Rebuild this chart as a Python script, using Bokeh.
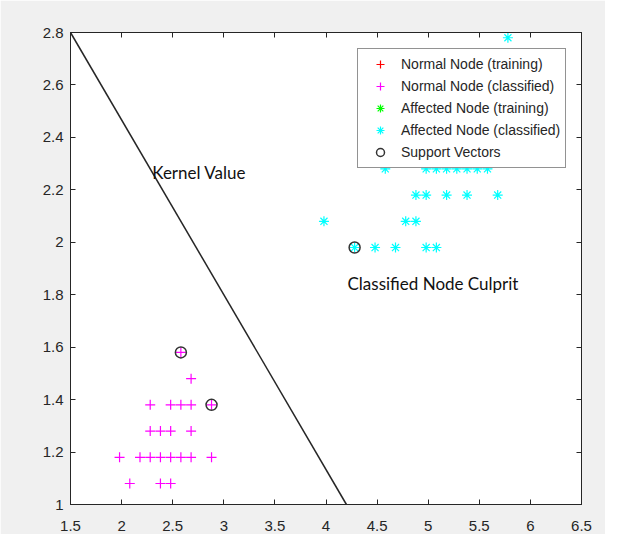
from bokeh.plotting import figure
from bokeh.models import LinearAxis, FixedTicker, Label, Legend, LegendItem
from bokeh.embed import file_html
from bokeh.resources import INLINE

nan = float("nan")

# ---- data ----
normal_train_x = [nan]
normal_train_y = [nan]
normal_x = [2.58, 2.68,
            2.28, 2.48, 2.58, 2.68, 2.88,
            2.28, 2.38, 2.48, 2.68,
            1.98, 2.18, 2.28, 2.38, 2.48, 2.58, 2.68, 2.88,
            2.08, 2.38, 2.48]
normal_y = [1.58, 1.48,
            1.38, 1.38, 1.38, 1.38, 1.38,
            1.28, 1.28, 1.28, 1.28,
            1.18, 1.18, 1.18, 1.18, 1.18, 1.18, 1.18, 1.18,
            1.08, 1.08, 1.08]
affected_train_x = [nan]
affected_train_y = [nan]
affected_x = [5.78,
              4.58, 4.98, 5.08, 5.18, 5.28, 5.38, 5.48, 5.58,
              4.88, 4.98, 5.18, 5.38, 5.68,
              3.98, 4.78, 4.88,
              4.28, 4.48, 4.68, 4.98, 5.08]
affected_y = [2.78,
              2.28, 2.28, 2.28, 2.28, 2.28, 2.28, 2.28, 2.28,
              2.18, 2.18, 2.18, 2.18, 2.18,
              2.08, 2.08, 2.08,
              1.98, 1.98, 1.98, 1.98, 1.98]
sv_x = [2.58, 2.88, 4.28]
sv_y = [1.58, 1.38, 1.98]
boundary_x = [1.5, 4.2]
boundary_y = [2.8, 1.0]

x_ticks = [1.5, 2, 2.5, 3, 3.5, 4, 4.5, 5, 5.5, 6, 6.5]
x_tick_labels = ["1.5", "2", "2.5", "3", "3.5", "4", "4.5", "5", "5.5", "6", "6.5"]
y_ticks = [1, 1.2, 1.4, 1.6, 1.8, 2, 2.2, 2.4, 2.6, 2.8]
y_tick_labels = ["1", "1.2", "1.4", "1.6", "1.8", "2", "2.2", "2.4", "2.6", "2.8"]

legend_labels = ["Normal Node (training)", "Normal Node (classified)",
                 "Affected Node (training)", "Affected Node (classified)",
                 "Support Vectors"]

annot_text = ["Kernel Value", "Classified Node Culprit"]
annot_x = [2.30, 4.21]
annot_y = [2.266, 1.843]

AX = "#262626"
FONT = "Liberation Sans"

p = figure(width=605, height=534, x_range=(1.5, 6.5), y_range=(1.0, 2.8),
           output_backend="svg", toolbar_location=None,
           min_border_left=70, min_border_right=24, min_border_top=32, min_border_bottom=30,
           background_fill_color="white", border_fill_color="#f0f0f0",
           outline_line_color=AX)
p.xgrid.visible = False
p.ygrid.visible = False


def style(ax, ticks, labels, show):
    ax.ticker = FixedTicker(ticks=ticks)
    ax.major_label_overrides = {t: (l if show else "") for t, l in zip(ticks, labels)}
    ax.minor_tick_line_color = None
    ax.major_tick_in = 5
    ax.major_tick_out = 0
    ax.axis_line_color = AX
    ax.major_tick_line_color = AX
    ax.major_label_text_font = FONT
    ax.major_label_text_font_size = "15px"
    ax.major_label_text_color = AX


style(p.xaxis[0], x_ticks, x_tick_labels, True)
p.xaxis[0].major_label_standoff = 16
style(p.yaxis[0], y_ticks, y_tick_labels, True)
p.yaxis[0].major_label_standoff = 7

top = LinearAxis()
style(top, x_ticks, x_tick_labels, False)
top.major_label_standoff = 0
p.add_layout(top, "above")
right = LinearAxis()
style(right, y_ticks, y_tick_labels, False)
right.major_label_standoff = 0
p.add_layout(right, "right")

p.line(boundary_x, boundary_y, line_color=AX, line_width=1.5)

r_nt = p.scatter(normal_train_x, normal_train_y, marker="cross", line_color="#ff0000", size=10, line_width=1.2)
r_nc = p.scatter(normal_x, normal_y, marker="cross", line_color="#ff00ff", size=10, line_width=1.2)
r_at = p.scatter(affected_train_x, affected_train_y, marker="asterisk", line_color="#00ff00", size=10, line_width=1.2)
r_ac = p.scatter(affected_x, affected_y, marker="asterisk", line_color="#00ffff", size=10, line_width=1.2)
r_sv = p.scatter(sv_x, sv_y, marker="circle", fill_color=None, line_color="#333333", size=11, line_width=1.5)

for t, x, y in zip(annot_text, annot_x, annot_y):
    p.add_layout(Label(x=x, y=y, text=t, text_baseline="middle", text_align="left",
                       text_font="Lato", text_font_size="17px", text_color="#111111"))

legend = Legend(items=[LegendItem(label=l, renderers=[r]) for l, r in
                       zip(legend_labels, [r_nt, r_nc, r_at, r_ac, r_sv])],
                location=(287, 336), margin=0, padding=5, spacing=2,
                glyph_width=34, glyph_height=20, label_height=20, label_standoff=4,
                label_text_font=FONT, label_text_font_size="14px", label_text_color=AX,
                border_line_color=AX, border_line_width=1,
                background_fill_color="white", background_fill_alpha=1.0)
p.add_layout(legend)

open("out.html", "w").write(file_html(p, INLINE))
